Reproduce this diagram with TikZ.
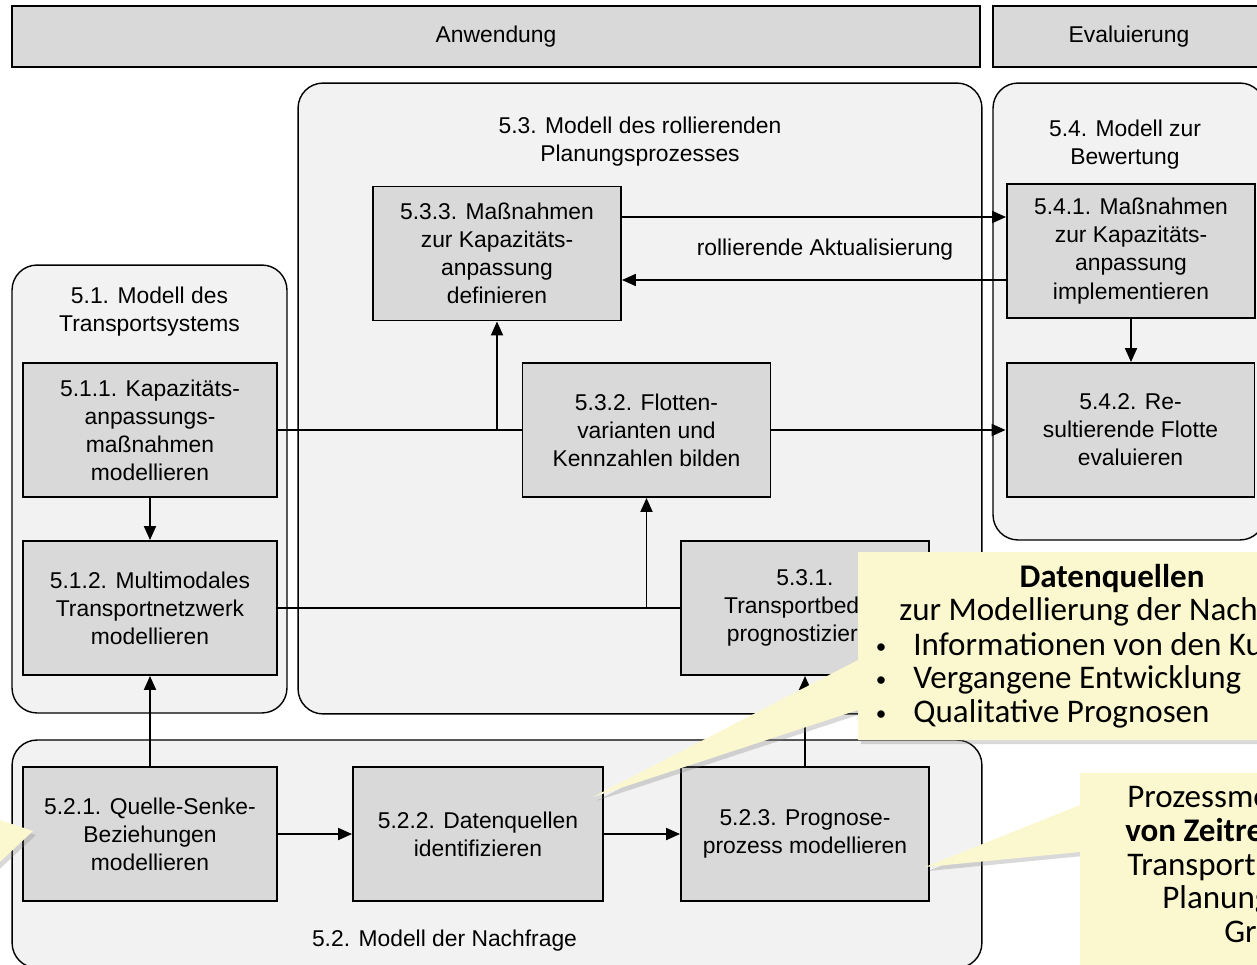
\documentclass[tikz,border=0pt]{standalone}
\usepackage{fontspec}
\setmainfont{Liberation Sans}
\newfontfamily\notefont{Carlito}
\usetikzlibrary{arrows.meta, shadows}
\definecolor{boxgray}{RGB}{217,217,217}
\definecolor{grpgray}{RGB}{242,242,242}
\definecolor{notefill}{RGB}{251,248,208}
\newcommand{\diafont}{\fontsize{13}{16}\selectfont}
\newcommand{\notesize}{\fontsize{18.8}{22}\selectfont}
\tikzset{
  hdr/.style={draw, fill=boxgray, line width=1pt, minimum height=1.22cm, font=\diafont},
  grp/.style={draw, fill=grpgray, rounded corners=0.5cm, line width=0.8pt},
  grptitle/.style={align=center, font=\diafont},
  task/.style={draw, fill=boxgray, line width=1.1pt, align=center, minimum width=4.96cm, minimum height=2.68cm, inner sep=2pt, font=\diafont},
  link/.style={line width=1.1pt},
  flow/.style={link, -{Triangle[length=0.28cm, width=0.24cm]}},
  note/.style={fill=notefill, drop shadow={opacity=0.3, shadow xshift=0.06cm, shadow yshift=-0.08cm}},
  notetxt/.style={font=\notefont\notesize, inner sep=0pt, anchor=base west},
  dot/.style={font=\notefont\fontsize{12}{12}\selectfont, inner sep=0pt, anchor=base},
}

\begin{document}
\begin{tikzpicture}[x=0.02cm, y=-0.02cm]
  \useasboundingbox (0,0) rectangle (1257,964);
  % phases
  \node[hdr, minimum width=19.36cm] (anw) at (496,36.5) {Anwendung};
  \node[hdr, minimum width=5.44cm] (eva) at (1129,36.5) {Evaluierung};

  % model groups
  \node[grp, minimum width=13.68cm, minimum height=12.62cm] (g53) at (640,398.5) {};
  \node[grp, minimum width=5.44cm, minimum height=9.14cm] (g54) at (1129,311.5) {};
  \node[grp, minimum width=5.5cm, minimum height=8.96cm] (g51) at (149.5,489) {};
  \node[grp, minimum width=19.4cm, minimum height=4.56cm] (g52) at (497,854) {};
  \node[grptitle] (t53) at (640,142) {5.3. Modell des rollierenden\\Planungsprozesses};
  \node[grptitle] (t54) at (1125,145) {5.4. Modell zur\\Bewertung};
  \node[grptitle] (t51) at (149.5,312) {5.1. Modell des\\Transportsystems};
  \node[grptitle] (t52) at (444.5,941) {5.2. Modell der Nachfrage};

  % steps
  \node[task] (a533) at (497,253.5) {5.3.3. Maßnahmen\\zur Kapazitäts-\\anpassung\\definieren};
  \node[task] (a541) at (1131,251) {5.4.1. Maßnahmen\\zur Kapazitäts-\\anpassung\\implementieren};
  \node[task, minimum width=5.08cm] (a511) at (150,430) {5.1.1. Kapazitäts-\\anpassungs-\\maßnahmen\\modellieren};
  \node[task] (a532) at (646.5,430) {5.3.2. Flotten-\\varianten und\\Kennzahlen bilden};
  \node[task] (a542) at (1130.5,430) {5.4.2. Re-\\sultierende Flotte\\evaluieren};
  \node[task, minimum width=5.08cm] (a512) at (150,608) {5.1.2. Multimodales\\Transportnetzwerk\\modellieren};
  \node[task] (a531) at (805,608) {5.3.1.\\Transportbedarf\\prognostizieren};
  \node[task, minimum width=5.08cm] (a521) at (150,834) {5.2.1. Quelle-Senke-\\Beziehungen\\modellieren};
  \node[task, minimum width=5cm] (a522) at (478,834) {5.2.2. Datenquellen\\identifizieren};
  \node[task] (a523) at (805,834) {5.2.3. Prognose-\\prozess modellieren};

  % connections
  \draw[flow] ([yshift=0.73cm]a533.east) -- ([yshift=0.73cm]a533.east -| a541.west);
  \draw[flow] ([yshift=-0.53cm]a533.east -| a541.west) -- ([yshift=-0.53cm]a533.east);
  \node[font=\diafont] (lbl) at (825,250) {rollierende Aktualisierung};
  \draw[flow] (a541.south) -- (a541.south |- a542.north);
  \draw[link] (a511) -- (a532);
  \draw[flow] (a511.east -| a533.south) -- (a533.south);
  \draw[flow] (a532) -- (a542);
  \draw[flow] (a511) -- (a512);
  \draw[link] (a512) -- (a531);
  \draw[flow] (a512.east -| a532.south) -- (a532.south);
  \draw[flow] (a521) -- (a512);
  \draw[flow] (a521) -- (a522);
  \draw[flow] (a522) -- (a523);
  \draw[flow] (a523) -- (a531);

  % callouts
  \fill[note] (858,552) -- (1265,552) -- (1265,740) -- (858,740) -- (858,710)
    -- (593,797) -- (858,660) -- cycle;
  \node[notetxt, anchor=base, font=\notefont\notesize\bfseries] (n1h) at (1112,587) {Datenquellen};
  \node[notetxt] (n1a) at (899,620) {zur Modellierung der Nachfrage};
  \node[dot] (b1) at (881,653) {•};
  \node[notetxt] (n1b) at (913,655) {Informationen von den Kunden};
  \node[dot] (b2) at (881,686) {•};
  \node[notetxt] (n1c) at (913,688) {Vergangene Entwicklung};
  \node[dot] (b3) at (881,720) {•};
  \node[notetxt] (n1d) at (913,722) {Qualitative Prognosen};

  \fill[note] (1080,773) -- (1265,773) -- (1265,975) -- (1080,975) -- (1080,852)
    -- (925,867) -- (1080,805) -- cycle;
  \node[notetxt] (n2a) at (1127,807) {Prozessmodell};
  \node[notetxt, font=\notefont\notesize\bfseries] (n2b) at (1125,841) {von Zeitreihen};
  \node[notetxt] (n2c) at (1127,875) {Transportnetz};
  \node[notetxt] (n2d) at (1162,908) {Planung};
  \node[notetxt] (n2e) at (1224,942) {Grenzen};

  \fill[note] (-60,800) -- (33,831) -- (-60,918) -- cycle;
\end{tikzpicture}
\end{document}
